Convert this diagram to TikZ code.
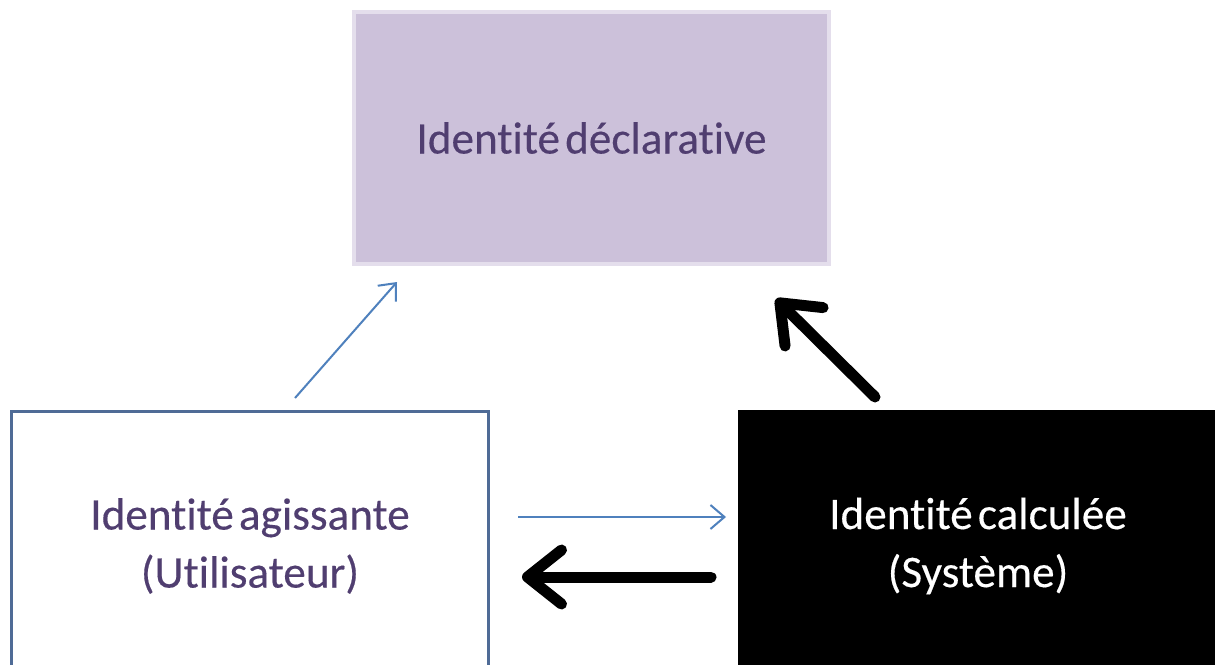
\documentclass[tikz,border=0pt]{standalone}
\usepackage{fontspec}
\setmainfont{Carlito}[Ligatures={NoCommon},WordSpace=0.5,FakeBold=0.3]
\usetikzlibrary{arrows.meta}
\newcommand\tiN{t\kern0pt i}
\definecolor{declfill}{RGB}{204,193,218}
\definecolor{declborder}{RGB}{228,222,236}
\definecolor{txtpurple}{RGB}{80,62,112}
\definecolor{boxblue}{RGB}{79,107,150}
\definecolor{arrowblue}{RGB}{79,129,189}
\begin{document}
\begin{tikzpicture}[x=0.5pt,y=-0.5pt,
  idbox/.style={rectangle, align=center, font=\fontsize{22.6}{29}\selectfont, inner sep=0pt},
  thinarrow/.style={draw=arrowblue, line width=1pt, -{Straight Barb[length=7pt,width=12pt]}},
  thickarrow/.style={draw=black, line width=5.5pt, line cap=round, -{Straight Barb[length=17pt,width=27pt,round]}}]
\useasboundingbox (0,0) rectangle (1215,664);
\clip (0,0) rectangle (1215,664);
\fill[white] (0,0) rectangle (1215,664);
\node[idbox, draw=declborder, line width=2pt, fill=declfill, text=txtpurple,
  minimum width=237.5pt, minimum height=126pt] (decl) at (591.5,138) {Iden\tiN té déclara\tiN ve};
\node[idbox, draw=boxblue, line width=1.5pt, fill=white, text=txtpurple,
  minimum width=238.5pt, minimum height=134.5pt] (agis) at (250,546) {Iden\tiN té agissante\\(U\tiN lisateur)};
\node[idbox, fill=black, text=white,
  minimum width=240pt, minimum height=136pt] (calc) at (978,546) {Iden\tiN té calculée\\(Système)};
\coordinate (a1s) at (295,398);
\coordinate (a1e) at (397,282);
\coordinate (a2s) at (875,397);
\coordinate (a2e) at (776,299);
\coordinate (a3s) at (518,517);
\coordinate (a3e) at (726,517);
\coordinate (a4s) at (711,577);
\coordinate (a4e) at (522,577);
\draw[thinarrow] (a1s) -- (a1e);
\draw[thickarrow] (a2s) -- (a2e);
\draw[thinarrow] (a3s) -- (a3e);
\draw[thickarrow] (a4s) -- (a4e);
\end{tikzpicture}
\end{document}
